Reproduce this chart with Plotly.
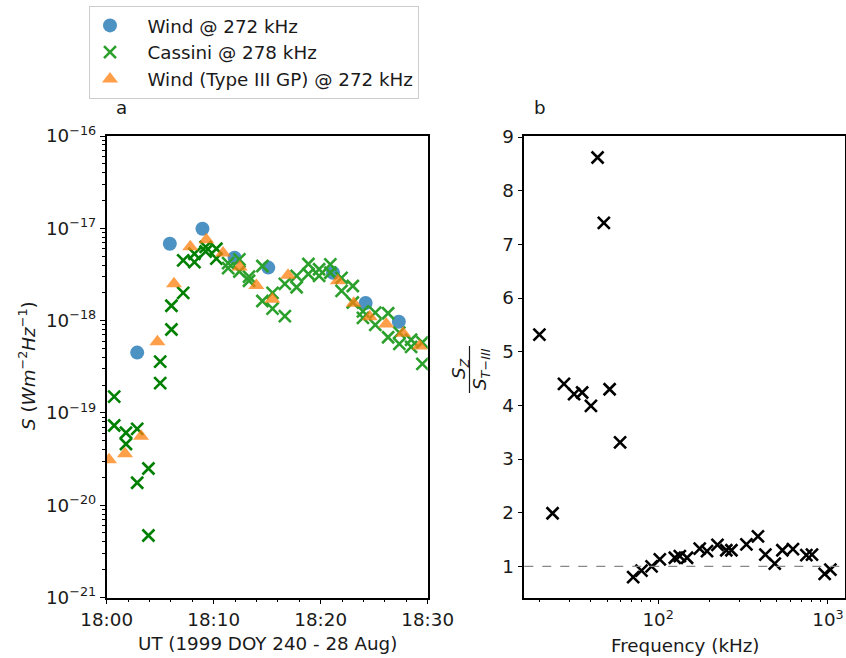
import pandas as pd
import plotly.graph_objects as go

# ---------------- data ----------------
# Panel a: flux density versus time (minutes after 18:00 UT, 1999-08-28)
wind_min = [2.85, 5.9, 8.95, 11.95, 15.1, 21.15, 24.2, 27.3]
wind_flux = [4.5e-19, 6.8e-18, 9.9e-18, 4.8e-18, 3.75e-18, 3.3e-18, 1.55e-18, 9.7e-19]

cassini_early_min = [0.7, 0.7, 1.8, 1.8, 2.85, 2.85, 3.9, 3.9, 5.0, 5.0,
                     6.05, 6.05, 7.15, 7.15, 8.2, 8.2, 9.25, 9.25, 10.25, 10.25]
cassini_early_flux = [1.5e-19, 7.3e-20, 6.1e-20, 4.6e-20, 6.7e-20, 1.75e-20,
                      2.5e-20, 4.7e-21, 3.6e-19, 2.1e-19, 1.45e-18, 8.0e-19,
                      4.5e-18, 2.0e-18, 4.3e-18, 5.3e-18, 5.6e-18, 6.3e-18,
                      6.0e-18, 4.7e-18]

cassini_late_min = [11.35, 11.35, 12.4, 12.4, 13.3, 13.3, 14.55, 14.55, 15.5, 15.5,
                    16.65, 16.65, 17.75, 17.75, 18.85, 18.85, 19.85, 19.85,
                    20.9, 20.9, 21.95, 21.95, 23.0, 23.0, 23.95, 23.95,
                    25.1, 25.1, 26.3, 26.3, 27.35, 27.35, 28.45, 28.45, 29.5, 29.5]
cassini_late_flux = [4.2e-18, 3.7e-18, 4.6e-18, 3.4e-18, 3.0e-18, 2.7e-18,
                     3.9e-18, 1.63e-18, 2.0e-18, 1.35e-18, 2.5e-18, 1.12e-18,
                     3.05e-18, 2.3e-18, 4.1e-18, 3.2e-18, 3.6e-18, 3.05e-18,
                     4.07e-18, 3.3e-18, 2.9e-18, 2.1e-18, 2.37e-18, 1.57e-18,
                     1.26e-18, 1.07e-18, 1.22e-18, 9.0e-19, 1.2e-18, 6.6e-19,
                     7.4e-19, 5.6e-19, 6.2e-19, 5.2e-19, 5.8e-19, 3.4e-19]

wind3_min = [0.22, 1.71, 3.21, 4.74, 6.29, 7.81, 9.31, 10.87, 12.43, 13.99,
             15.48, 16.95, 21.6, 23.08, 24.58, 26.13, 27.7, 29.25]
wind3_flux = [3.1e-20, 3.6e-20, 5.6e-20, 5.9e-19, 2.5e-18, 6.3e-18, 7.5e-18,
              5.4e-18, 3.8e-18, 2.4e-18, 1.7e-18, 3.1e-18, 2.7e-18, 1.54e-18,
              1.1e-18, 9.2e-19, 7.3e-19, 5.3e-19]

# Panel b: ratio of flux densities versus frequency
freq_khz = [20.0, 23.9, 27.9, 32.0, 35.7, 40.2, 44.0, 47.9, 51.8, 59.7,
            71.3, 79.8, 91.5, 102.3, 125.4, 134.2, 148.0, 175.7, 194.0, 223.5,
            252.0, 270.0, 331.0, 387.0, 428.0, 486.0, 539.0, 622.0, 746.0, 805.0,
            956.0, 1033.0]
ratio = [5.32, 1.99, 4.40, 4.21, 4.24, 3.99, 8.62, 7.40, 4.30, 3.31,
         0.80, 0.92, 1.00, 1.13, 1.16, 1.19, 1.16, 1.33, 1.285, 1.40,
         1.30, 1.30, 1.41, 1.56, 1.22, 1.05, 1.30, 1.32, 1.21, 1.22,
         0.86, 0.94]

# tick labels
flux_tickvals = [1e-21, 1e-20, 1e-19, 1e-18, 1e-17, 1e-16]
flux_ticktext = ["10<sup>−21</sup>", "10<sup>−20</sup>", "10<sup>−19</sup>",
                 "10<sup>−18</sup>", "10<sup>−17</sup>", "10<sup>−16</sup>"]
freq_tickvals = [100, 1000]
freq_ticktext = ["10<sup>2</sup>", "10<sup>3</sup>"]
ratio_tickvals = [1, 2, 3, 4, 5, 6, 7, 8, 9]

# ---------------- layout helpers ----------------
W, H = 846, 658
FONT = "DejaVu Sans"
FS = 18.3
TXT = "#1a1a1a"
PAD = "\u00a0\u00a0\u00a0"   # extra gap between legend symbol and label


def px(x):
    return x / W


def py(y):
    return 1 - y / H


base = pd.Timestamp("1999-08-28 18:00:00")


def to_time(minutes):
    return [base + pd.Timedelta(minutes=m) for m in minutes]


fig = go.Figure()

fig.add_trace(go.Scatter(
    x=to_time(wind_min), y=wind_flux, mode="markers",
    name=PAD + "Wind @ 272 kHz", legendgroup="g1",
    marker=dict(symbol="circle", size=14, color="#1f77b4", opacity=0.8,
                line=dict(width=0)),
    xaxis="x", yaxis="y"))

fig.add_trace(go.Scatter(
    x=to_time(cassini_early_min), y=cassini_early_flux, mode="markers",
    name=PAD + "Cassini @ 278 kHz", legendgroup="g2", showlegend=False,
    marker=dict(symbol="x-thin", size=12, color="#008000",
                line=dict(width=2.6, color="#008000")),
    xaxis="x", yaxis="y"))

fig.add_trace(go.Scatter(
    x=to_time(cassini_late_min), y=cassini_late_flux, mode="markers",
    name=PAD + "Cassini @ 278 kHz", legendgroup="g2",
    marker=dict(symbol="x-thin", size=12, color="#2ca02c",
                line=dict(width=2.6, color="#2ca02c")),
    xaxis="x", yaxis="y"))

fig.add_trace(go.Scatter(
    x=to_time(wind3_min), y=wind3_flux, mode="markers",
    name=PAD + "Wind (Type III GP) @ 272 kHz", legendgroup="g3",
    marker=dict(symbol="triangle-up", size=14, color="#ff7f0e", opacity=0.75,
                line=dict(width=0)),
    xaxis="x", yaxis="y"))

fig.add_trace(go.Scatter(
    x=freq_khz, y=ratio, mode="markers", showlegend=False,
    marker=dict(symbol="x-thin", size=12, color="black",
                line=dict(width=2.6, color="black")),
    xaxis="x2", yaxis="y2"))

axis_common = dict(
    showline=True, linecolor="black", linewidth=1.6, mirror=True,
    ticks="outside", ticklen=5, tickwidth=1.2, tickcolor="black",
    showgrid=False, zeroline=False,
    tickfont=dict(family=FONT, size=FS, color=TXT),
)
minor_common = dict(ticks="outside", ticklen=3, tickwidth=1,
                    tickcolor="black", showgrid=False)

fig.update_layout(
    width=W, height=H,
    margin=dict(l=0, r=0, t=0, b=0, autoexpand=False),
    paper_bgcolor="white", plot_bgcolor="white",
    font=dict(family=FONT, size=FS, color=TXT),
    xaxis=dict(
        domain=[px(106.7), px(427.7)], anchor="y", type="date",
        range=[base, base + pd.Timedelta(minutes=30)],
        tickformat="%H:%M", dtick=600000,
        minor=dict(dtick=120000, **minor_common),
        **axis_common),
    yaxis=dict(
        domain=[py(597.5), py(136)], anchor="x", type="log",
        range=[-21, -16], tickmode="array",
        tickvals=flux_tickvals, ticktext=flux_ticktext,
        minor=dict(dtick="D1", **minor_common),
        **axis_common),
    xaxis2=dict(
        domain=[px(524.3), px(845.3)], anchor="y2", type="log",
        range=[1.212, 3.102], tickmode="array",
        tickvals=freq_tickvals, ticktext=freq_ticktext,
        minor=dict(dtick="D1", **minor_common),
        **axis_common),
    yaxis2=dict(
        domain=[py(597.5), py(136)], anchor="x2",
        range=[0.42, 9.02], tickmode="array", tickvals=ratio_tickvals,
        **axis_common),
    legend=dict(
        x=px(89), y=py(6), xanchor="left", yanchor="top",
        bgcolor="white", bordercolor="#cccccc", borderwidth=1,
        font=dict(family=FONT, size=FS, color=TXT),
        traceorder="grouped", tracegroupgap=0,
        itemwidth=30,
    ),
)

# reference line at ratio = 1
fig.add_shape(type="line", xref="x2 domain", yref="y2", x0=0, x1=1, y0=1, y1=1,
              line=dict(color="#888888", width=1.1, dash="dash"))

# panel letters and axis titles
ann = [
    dict(text="a", x=px(121), y=py(108)),
    dict(text="b", x=px(540), y=py(108)),
    dict(text="UT (1999 DOY 240 - 28 Aug)", x=px(267), y=py(643)),
    dict(text="Frequency (kHz)", x=px(685), y=py(645)),
    dict(text="<i>S</i> (<i>Wm</i><sup>−2</sup><i>Hz</i><sup>−1</sup>)",
         x=px(27), y=py(366), textangle=-90),
    dict(text="<i>S</i><sub><i>Z</i></sub>", x=px(460), y=py(369),
         textangle=-90),
    dict(text="<i>S</i><sub><i>T</i>−<i>III</i></sub>", x=px(481), y=py(369),
         textangle=-90),
]
for a in ann:
    fig.add_annotation(xref="paper", yref="paper", showarrow=False,
                       xanchor="center", yanchor="middle",
                       font=dict(family=FONT, size=FS, color=TXT), **a)

# fraction bar of the ratio label
fig.add_shape(type="line", xref="paper", yref="paper",
              x0=px(469.5), x1=px(469.5), y0=py(346), y1=py(393),
              line=dict(color=TXT, width=1.2))

fig.write_html("out.html")
